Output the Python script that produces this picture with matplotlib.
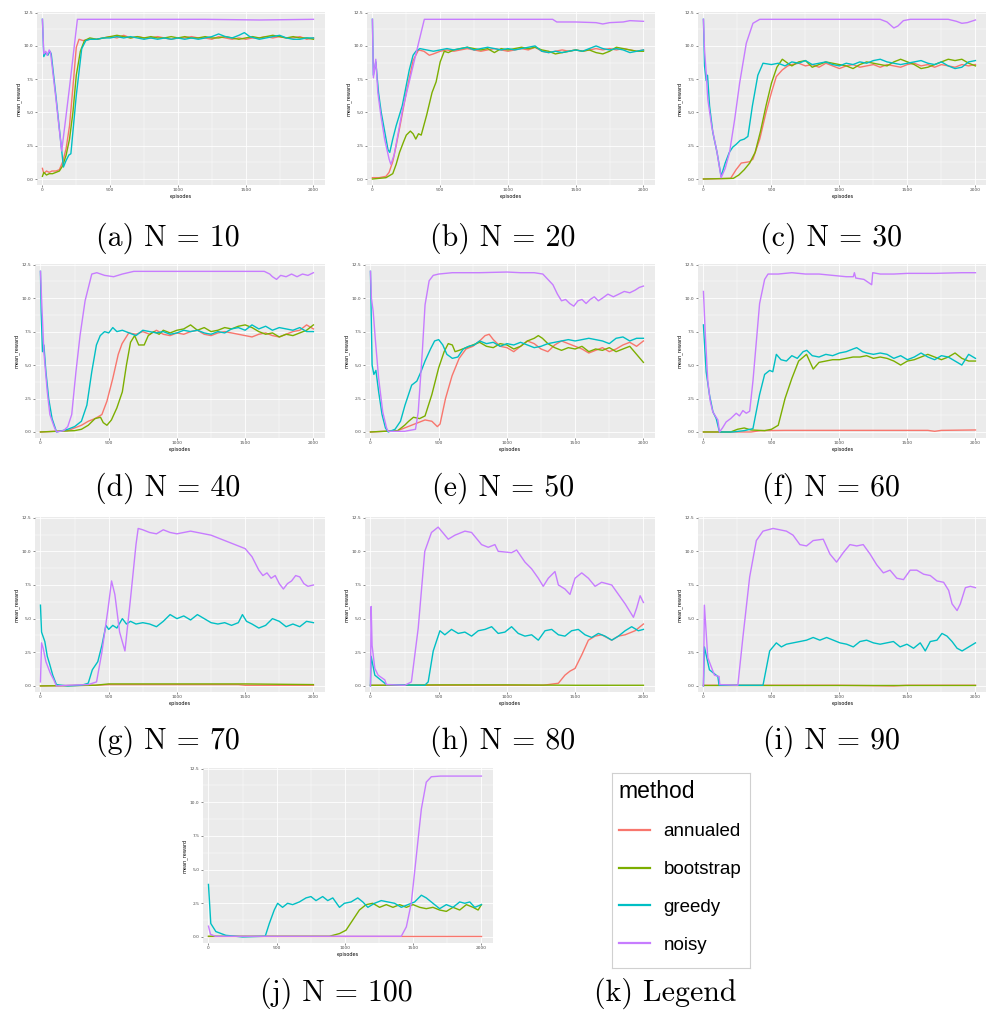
import matplotlib
matplotlib.use('Agg')
import matplotlib.pyplot as plt
from matplotlib.lines import Line2D

# (episode, mean_reward) points
A_ANNUALED = [(0, 0.8), (10, 0.4), (30, 0.6), (50, 0.5), (70, 0.6), (100, 0.6), (125, 0.7), (150, 1.3), (175, 2.3), (200, 4.0), (230, 7.5), (250, 9.9), (270, 10.5), (300, 10.4), (350, 10.5), (400, 10.5), (450, 10.6), (500, 10.7), (550, 10.6), (600, 10.8), (650, 10.6), (700, 10.7), (750, 10.6), (800, 10.6), (850, 10.7), (900, 10.6), (950, 10.5), (1000, 10.6), (1050, 10.6), (1100, 10.7), (1150, 10.6), (1200, 10.6), (1250, 10.5), (1300, 10.7), (1350, 10.6), (1400, 10.5), (1450, 10.6), (1500, 10.5), (1550, 10.6), (1600, 10.6), (1650, 10.7), (1700, 10.6), (1750, 10.7), (1800, 10.6), (1850, 10.6), (1900, 10.7), (1950, 10.5), (2000, 10.6)]
A_BOOTSTRAP = [(0, 0.2), (10, 0.5), (30, 0.3), (50, 0.4), (75, 0.4), (100, 0.5), (125, 0.6), (150, 1.0), (175, 1.8), (200, 3.0), (225, 5.0), (250, 7.8), (280, 9.6), (310, 10.4), (350, 10.6), (400, 10.5), (450, 10.6), (500, 10.7), (550, 10.8), (600, 10.7), (650, 10.6), (700, 10.7), (750, 10.6), (800, 10.7), (850, 10.6), (900, 10.6), (950, 10.7), (1000, 10.6), (1050, 10.7), (1100, 10.6), (1150, 10.6), (1200, 10.7), (1250, 10.6), (1300, 10.6), (1350, 10.7), (1400, 10.6), (1450, 10.5), (1500, 10.6), (1550, 10.7), (1600, 10.6), (1650, 10.7), (1700, 10.8), (1750, 10.7), (1800, 10.6), (1850, 10.7), (1900, 10.6), (1950, 10.6), (2000, 10.5)]
A_GREEDY = [(0, 12.0), (10, 9.2), (25, 9.5), (40, 9.3), (55, 9.6), (65, 9.4), (100, 6.2), (130, 3.3), (155, 0.9), (175, 1.4), (195, 1.8), (210, 1.9), (250, 6.3), (290, 9.8), (320, 10.4), (350, 10.5), (400, 10.5), (450, 10.6), (500, 10.6), (550, 10.7), (600, 10.6), (650, 10.7), (700, 10.6), (750, 10.5), (800, 10.6), (850, 10.5), (900, 10.6), (950, 10.5), (1000, 10.6), (1050, 10.5), (1100, 10.6), (1150, 10.5), (1200, 10.6), (1250, 10.7), (1300, 10.9), (1350, 10.7), (1400, 10.6), (1450, 10.8), (1490, 11.0), (1530, 10.7), (1600, 10.5), (1650, 10.6), (1700, 10.7), (1750, 10.8), (1800, 10.6), (1850, 10.5), (1900, 10.5), (1950, 10.6), (2000, 10.6)]
A_NOISY = [(0, 12.0), (10, 9.4), (25, 9.6), (35, 9.3), (50, 9.7), (60, 9.5), (100, 6.0), (142, 2.1), (175, 4.8), (200, 6.9), (258, 12.0), (400, 12.0), (800, 12.0), (1200, 12.0), (1600, 11.95), (2000, 12.0)]

B_ANNUALED = [(0, 0.1), (50, 0.1), (100, 0.2), (123, 0.5), (150, 1.3), (175, 2.5), (200, 3.8), (250, 6.5), (300, 8.9), (340, 9.7), (380, 9.6), (420, 9.3), (450, 9.4), (500, 9.6), (550, 9.7), (600, 9.6), (650, 9.7), (700, 9.8), (750, 9.7), (800, 9.6), (850, 9.7), (900, 9.8), (950, 9.7), (1000, 9.6), (1050, 9.7), (1100, 9.8), (1150, 9.7), (1200, 9.9), (1250, 9.6), (1300, 9.5), (1350, 9.6), (1400, 9.7), (1450, 9.6), (1500, 9.7), (1550, 9.6), (1600, 9.7), (1650, 9.8), (1700, 9.7), (1750, 9.8), (1800, 9.7), (1850, 9.8), (1900, 9.7), (1950, 9.6), (2000, 9.7)]
B_BOOTSTRAP = [(0, 0.0), (100, 0.1), (150, 0.4), (175, 1.1), (200, 2.0), (230, 2.8), (250, 3.3), (280, 3.6), (300, 3.4), (320, 3.0), (340, 3.4), (360, 3.3), (400, 4.8), (440, 6.5), (470, 7.3), (500, 8.8), (530, 9.6), (560, 9.5), (600, 9.7), (650, 9.8), (700, 9.9), (750, 9.8), (800, 9.7), (850, 9.8), (900, 9.5), (950, 9.8), (1000, 9.7), (1050, 9.8), (1100, 9.9), (1150, 9.8), (1200, 9.9), (1250, 9.7), (1300, 9.6), (1350, 9.4), (1400, 9.5), (1450, 9.6), (1500, 9.7), (1550, 9.6), (1600, 9.7), (1650, 9.5), (1700, 9.4), (1750, 9.6), (1800, 9.9), (1850, 9.8), (1900, 9.7), (1950, 9.6), (2000, 9.6)]
B_GREEDY = [(0, 12.0), (7, 7.8), (25, 8.8), (45, 6.5), (65, 5.0), (90, 3.6), (115, 2.2), (128, 2.0), (150, 3.0), (175, 4.0), (220, 5.5), (272, 8.2), (300, 9.3), (321, 9.6), (350, 9.8), (400, 9.7), (450, 9.6), (500, 9.7), (550, 9.8), (600, 9.7), (650, 9.8), (700, 9.9), (750, 9.7), (800, 9.8), (850, 9.9), (900, 9.8), (950, 9.7), (1000, 9.8), (1050, 9.7), (1100, 9.8), (1150, 9.9), (1200, 10.0), (1250, 9.6), (1300, 9.5), (1350, 9.6), (1400, 9.5), (1450, 9.6), (1500, 9.7), (1550, 9.6), (1600, 9.8), (1650, 10.0), (1700, 9.8), (1750, 9.7), (1800, 9.8), (1850, 9.7), (1900, 9.5), (1950, 9.6), (2000, 9.7)]
B_NOISY = [(0, 12.0), (7, 7.6), (25, 9.0), (40, 6.5), (62, 4.8), (90, 3.0), (123, 1.5), (136, 1.1), (160, 1.8), (222, 5.2), (300, 8.5), (340, 10.2), (383, 12.0), (500, 12.0), (900, 12.0), (1330, 12.0), (1360, 11.8), (1500, 11.8), (1650, 11.75), (1700, 11.65), (1750, 11.75), (1850, 11.8), (1900, 11.9), (2000, 11.85)]

C_ANNUALED = [(0, 0.0), (200, 0.05), (240, 0.7), (278, 1.2), (340, 1.3), (364, 1.5), (414, 3.0), (460, 5.0), (500, 6.5), (536, 7.7), (580, 8.2), (620, 8.5), (650, 8.6), (700, 8.7), (750, 8.5), (800, 8.6), (850, 8.4), (900, 8.7), (950, 8.5), (1000, 8.3), (1050, 8.5), (1100, 8.6), (1150, 8.4), (1200, 8.5), (1250, 8.6), (1300, 8.4), (1350, 8.6), (1400, 8.5), (1450, 8.4), (1500, 8.6), (1550, 8.7), (1600, 8.5), (1650, 8.6), (1700, 8.4), (1750, 8.6), (1800, 8.5), (1850, 8.4), (1900, 8.6), (1950, 8.5), (2000, 8.6)]
C_BOOTSTRAP = [(0, 0.0), (220, 0.05), (260, 0.3), (300, 0.7), (340, 1.2), (380, 2.0), (420, 3.6), (460, 5.5), (500, 7.2), (540, 8.4), (580, 9.0), (620, 8.7), (650, 8.5), (700, 8.8), (750, 8.9), (800, 8.4), (850, 8.6), (900, 8.8), (950, 8.7), (1000, 8.6), (1050, 8.5), (1100, 8.3), (1150, 8.6), (1200, 8.8), (1250, 8.7), (1300, 8.6), (1350, 8.5), (1400, 8.8), (1450, 9.0), (1500, 8.8), (1550, 8.6), (1600, 8.3), (1650, 8.4), (1700, 8.6), (1750, 8.8), (1800, 9.0), (1850, 8.9), (1900, 9.0), (1950, 8.7), (2000, 8.5)]
C_GREEDY = [(0, 12.0), (8, 8.5), (20, 7.4), (30, 7.8), (45, 5.5), (69, 3.5), (100, 2.0), (130, 0.2), (160, 1.2), (190, 2.0), (216, 2.4), (240, 2.6), (270, 2.9), (300, 3.0), (327, 3.2), (360, 5.5), (400, 7.8), (438, 8.7), (500, 8.6), (550, 8.7), (600, 8.5), (650, 8.8), (700, 8.7), (750, 8.9), (800, 8.6), (850, 8.7), (900, 8.8), (950, 8.6), (1000, 8.5), (1050, 8.7), (1100, 8.6), (1150, 8.8), (1200, 8.7), (1250, 8.9), (1300, 9.0), (1350, 8.8), (1400, 8.7), (1450, 8.6), (1500, 8.7), (1550, 8.8), (1600, 8.9), (1650, 8.7), (1700, 8.6), (1750, 8.8), (1800, 8.5), (1850, 8.3), (1900, 8.4), (1950, 8.8), (2000, 8.9)]
C_NOISY = [(0, 12.0), (8, 9.7), (20, 8.0), (32, 6.0), (60, 4.0), (100, 2.0), (130, 0.1), (160, 0.8), (192, 2.0), (230, 4.5), (266, 7.2), (315, 10.2), (364, 11.7), (414, 12.0), (600, 12.0), (1000, 12.0), (1300, 12.0), (1350, 11.8), (1400, 11.35), (1430, 11.5), (1470, 11.9), (1520, 12.0), (1800, 12.0), (1860, 11.85), (1900, 11.7), (1940, 11.75), (2000, 11.95)]

D_ANNUALED = [(0, 0.0), (200, 0.1), (250, 0.3), (300, 0.5), (350, 0.8), (400, 1.0), (450, 1.3), (487, 2.3), (530, 4.0), (570, 5.8), (598, 6.6), (647, 7.4), (700, 7.3), (750, 7.5), (800, 7.3), (850, 7.6), (900, 7.3), (950, 7.2), (1000, 7.4), (1050, 7.3), (1100, 7.5), (1150, 7.6), (1200, 7.3), (1250, 7.2), (1300, 7.4), (1350, 7.5), (1400, 7.4), (1450, 7.3), (1500, 7.2), (1550, 7.1), (1600, 7.3), (1650, 7.4), (1700, 7.2), (1750, 7.1), (1800, 7.3), (1850, 7.5), (1900, 7.6), (1950, 8.0), (2000, 7.7)]
D_BOOTSTRAP = [(0, 0.0), (250, 0.1), (300, 0.2), (350, 0.5), (400, 1.0), (440, 1.1), (460, 0.7), (487, 0.5), (520, 0.9), (560, 1.8), (600, 3.0), (630, 5.0), (660, 6.7), (690, 7.2), (720, 6.5), (760, 6.5), (790, 7.2), (830, 7.5), (870, 7.3), (900, 7.6), (950, 7.4), (1000, 7.6), (1050, 7.7), (1100, 8.0), (1150, 7.6), (1200, 7.8), (1250, 7.5), (1300, 7.6), (1350, 7.8), (1400, 7.7), (1450, 7.9), (1500, 8.0), (1550, 7.8), (1600, 7.5), (1650, 7.3), (1700, 7.4), (1750, 7.1), (1800, 7.3), (1850, 7.2), (1900, 7.4), (1950, 7.6), (2000, 8.0)]
D_GREEDY = [(0, 12.0), (5, 9.0), (15, 6.0), (25, 6.5), (40, 4.5), (60, 2.5), (85, 1.0), (118, 0.0), (160, 0.1), (200, 0.2), (250, 0.4), (300, 0.8), (340, 2.0), (376, 4.5), (410, 6.5), (438, 7.2), (470, 7.5), (500, 7.4), (530, 7.8), (560, 7.5), (600, 7.6), (650, 7.4), (700, 7.2), (750, 7.6), (800, 7.5), (850, 7.4), (900, 7.5), (950, 7.3), (1000, 7.4), (1050, 7.6), (1100, 7.5), (1150, 7.6), (1200, 7.4), (1250, 7.3), (1300, 7.5), (1350, 7.4), (1400, 7.7), (1450, 7.8), (1500, 7.6), (1550, 8.0), (1600, 7.7), (1650, 7.9), (1700, 7.6), (1750, 7.8), (1800, 7.7), (1850, 7.6), (1900, 7.8), (1950, 7.5), (2000, 7.5)]
D_NOISY = [(0, 12.0), (10, 9.5), (25, 6.0), (50, 3.0), (69, 1.3), (100, 0.4), (118, 0.0), (170, 0.1), (200, 0.4), (229, 1.3), (260, 4.5), (290, 7.2), (327, 9.8), (376, 11.8), (413, 11.9), (470, 11.7), (536, 11.6), (600, 11.8), (684, 12.0), (800, 12.0), (1200, 12.0), (1640, 12.0), (1680, 11.8), (1700, 11.6), (1730, 11.4), (1760, 11.7), (1800, 11.6), (1840, 11.8), (1880, 11.6), (1920, 11.8), (1960, 11.7), (2000, 11.9)]

E_ANNUALED = [(0, 0.0), (200, 0.1), (250, 0.3), (300, 0.5), (350, 0.7), (400, 0.9), (450, 0.8), (490, 0.4), (510, 0.6), (550, 2.5), (598, 4.2), (650, 5.5), (700, 6.2), (750, 6.4), (800, 6.8), (840, 7.2), (870, 7.3), (900, 6.9), (950, 6.4), (1000, 6.3), (1050, 6.0), (1100, 6.4), (1150, 6.8), (1200, 6.6), (1250, 6.2), (1300, 6.0), (1350, 6.5), (1400, 6.8), (1450, 6.6), (1500, 6.4), (1550, 6.2), (1600, 5.9), (1650, 6.1), (1700, 6.3), (1750, 6.0), (1800, 6.2), (1850, 6.5), (1900, 6.7), (1950, 6.4), (2000, 6.8)]
E_BOOTSTRAP = [(0, 0.0), (200, 0.1), (250, 0.5), (280, 0.8), (315, 1.1), (360, 1.0), (400, 1.2), (450, 2.8), (500, 4.8), (540, 6.0), (570, 6.6), (600, 6.5), (620, 6.0), (650, 6.1), (700, 6.3), (750, 6.5), (800, 6.7), (850, 6.4), (900, 6.3), (950, 6.6), (1000, 6.5), (1050, 6.2), (1100, 6.4), (1150, 6.8), (1200, 7.0), (1230, 7.2), (1260, 7.0), (1300, 6.6), (1350, 6.3), (1400, 6.1), (1450, 6.3), (1500, 6.2), (1550, 6.4), (1600, 6.0), (1650, 6.2), (1700, 6.1), (1750, 6.3), (1800, 6.0), (1850, 6.2), (1900, 6.4), (1950, 5.8), (2000, 5.2)]
E_GREEDY = [(0, 12.0), (5, 9.0), (12, 5.0), (25, 4.3), (40, 4.6), (60, 3.0), (85, 1.3), (110, 0.3), (130, 0.0), (180, 0.2), (220, 0.8), (253, 2.0), (302, 3.5), (340, 3.8), (370, 4.5), (400, 5.3), (440, 6.2), (470, 6.8), (500, 6.9), (530, 6.5), (560, 5.8), (600, 5.5), (640, 5.6), (680, 6.2), (720, 6.4), (760, 6.5), (800, 6.8), (850, 6.6), (900, 6.7), (950, 6.4), (1000, 6.6), (1050, 6.5), (1100, 6.7), (1150, 6.5), (1200, 6.3), (1250, 6.4), (1300, 6.6), (1350, 6.7), (1400, 6.8), (1450, 6.9), (1500, 6.8), (1550, 6.9), (1600, 7.0), (1650, 6.9), (1700, 6.8), (1750, 6.6), (1800, 7.0), (1850, 7.1), (1900, 6.8), (1950, 7.0), (2000, 7.0)]
E_NOISY = [(0, 12.0), (7, 10.0), (20, 9.0), (35, 7.0), (60, 4.0), (90, 1.5), (118, 0.3), (130, 0.05), (250, 0.05), (330, 0.2), (350, 1.5), (380, 6.0), (400, 9.5), (430, 11.3), (460, 11.7), (500, 11.8), (600, 11.9), (800, 11.9), (1000, 11.95), (1100, 11.9), (1200, 11.9), (1263, 11.8), (1300, 11.4), (1337, 11.0), (1370, 10.3), (1400, 9.8), (1430, 9.9), (1460, 9.6), (1490, 9.4), (1520, 9.8), (1550, 9.9), (1580, 9.6), (1610, 9.9), (1640, 10.1), (1670, 9.8), (1700, 10.0), (1740, 10.3), (1780, 10.1), (1820, 10.3), (1860, 10.5), (1900, 10.4), (1940, 10.6), (1970, 10.8), (2000, 10.9)]

F_ANNUALED = [(0, 0.0), (350, 0.0), (420, 0.1), (600, 0.12), (1000, 0.12), (1650, 0.12), (1700, 0.05), (1750, 0.12), (2000, 0.15)]
F_BOOTSTRAP = [(0, 0.0), (200, 0.0), (250, 0.2), (300, 0.3), (350, 0.15), (450, 0.1), (500, 0.2), (550, 0.5), (600, 2.5), (650, 4.0), (700, 5.3), (758, 5.8), (807, 4.7), (850, 5.2), (900, 5.3), (950, 5.4), (1000, 5.4), (1050, 5.5), (1100, 5.6), (1150, 5.6), (1200, 5.7), (1250, 5.5), (1300, 5.6), (1350, 5.5), (1400, 5.3), (1450, 5.0), (1500, 5.3), (1550, 5.4), (1600, 5.6), (1650, 5.8), (1700, 5.6), (1750, 5.4), (1800, 5.6), (1850, 5.9), (1900, 5.5), (1950, 5.3), (2000, 5.3)]
F_GREEDY = [(0, 8.0), (20, 4.5), (44, 2.8), (70, 1.5), (94, 1.0), (118, 0.0), (216, 0.0), (300, 0.1), (364, 0.25), (413, 2.8), (450, 4.3), (487, 4.6), (510, 4.5), (536, 5.8), (570, 5.4), (610, 5.3), (650, 5.7), (690, 5.5), (733, 6.0), (760, 6.1), (800, 5.7), (850, 5.6), (900, 5.8), (950, 5.7), (1000, 5.9), (1050, 6.0), (1100, 6.2), (1127, 6.3), (1170, 6.0), (1200, 5.9), (1250, 5.8), (1300, 5.9), (1350, 5.8), (1400, 5.5), (1450, 5.7), (1500, 5.4), (1550, 5.6), (1600, 5.9), (1650, 5.6), (1700, 5.4), (1750, 5.7), (1800, 5.6), (1850, 5.3), (1900, 5.0), (1950, 5.8), (2000, 5.5)]
F_NOISY = [(0, 10.5), (15, 7.0), (32, 3.8), (50, 2.3), (69, 1.5), (106, 0.9), (118, 0.0), (140, 0.3), (167, 0.75), (200, 1.0), (241, 1.4), (265, 1.2), (290, 1.6), (315, 1.4), (340, 1.55), (364, 3.8), (413, 9.6), (450, 11.4), (475, 11.8), (550, 11.8), (650, 11.9), (750, 11.8), (850, 11.8), (950, 11.7), (1050, 11.6), (1102, 11.6), (1110, 11.9), (1120, 11.5), (1180, 11.4), (1237, 11.0), (1245, 11.9), (1300, 11.8), (1400, 11.8), (1500, 11.85), (1700, 11.85), (1900, 11.9), (2000, 11.9)]

G_ANNUALED = [(0, 0.0), (400, 0.05), (500, 0.1), (1000, 0.1), (1450, 0.1), (1500, 0.05), (2000, 0.05)]
G_BOOTSTRAP = [(0, 0.0), (400, 0.05), (500, 0.15), (1000, 0.15), (1500, 0.15), (2000, 0.1)]
G_GREEDY = [(0, 6.0), (8, 4.0), (32, 3.3), (50, 2.2), (68, 1.6), (90, 0.8), (117, 0.1), (200, 0.0), (300, 0.05), (350, 0.2), (380, 1.2), (420, 1.8), (450, 3.0), (480, 4.5), (500, 4.2), (530, 4.5), (560, 4.3), (600, 5.0), (630, 4.6), (660, 4.8), (700, 4.6), (750, 4.7), (800, 4.6), (850, 4.4), (900, 4.8), (950, 5.3), (1000, 5.0), (1050, 5.2), (1100, 4.9), (1150, 5.3), (1200, 5.0), (1250, 4.7), (1300, 4.6), (1350, 4.7), (1400, 4.5), (1450, 4.7), (1480, 5.3), (1510, 4.8), (1550, 4.6), (1600, 4.3), (1650, 4.5), (1700, 5.0), (1750, 4.8), (1800, 4.4), (1850, 4.6), (1900, 4.4), (1950, 4.8), (2000, 4.7)]
G_NOISY = [(0, 0.3), (8, 3.2), (20, 2.8), (40, 1.8), (70, 1.0), (100, 0.4), (117, 0.0), (200, 0.05), (350, 0.1), (411, 0.3), (450, 2.5), (496, 5.8), (521, 7.8), (545, 6.8), (580, 4.0), (619, 2.6), (660, 6.5), (700, 10.5), (716, 11.7), (750, 11.6), (800, 11.4), (850, 11.3), (900, 11.6), (950, 11.4), (1000, 11.3), (1050, 11.4), (1100, 11.5), (1150, 11.4), (1200, 11.3), (1250, 11.2), (1300, 11.0), (1350, 10.8), (1400, 10.6), (1450, 10.4), (1500, 10.2), (1550, 9.6), (1600, 8.6), (1630, 8.2), (1660, 8.4), (1690, 8.0), (1720, 8.2), (1750, 7.6), (1780, 7.2), (1810, 7.6), (1840, 7.8), (1870, 8.2), (1900, 8.1), (1930, 7.6), (1960, 7.4), (2000, 7.5)]

H_ANNUALED = [(0, 0.05), (1266, 0.05), (1377, 0.2), (1425, 0.8), (1462, 1.1), (1499, 1.3), (1548, 2.3), (1597, 3.4), (1646, 3.7), (1694, 3.8), (1768, 3.4), (1817, 3.7), (1866, 3.8), (1939, 4.1), (2000, 4.6)]
H_BOOTSTRAP = [(0, 0.05), (500, 0.08), (1000, 0.08), (1500, 0.05), (2000, 0.05)]
H_GREEDY = [(0, 0.0), (5, 2.2), (32, 0.8), (117, 0.1), (398, 0.05), (423, 0.3), (460, 2.6), (509, 4.1), (545, 3.8), (594, 4.2), (643, 3.9), (692, 4.0), (741, 3.7), (790, 4.1), (839, 4.2), (888, 4.4), (936, 3.9), (985, 4.0), (1034, 4.4), (1083, 3.9), (1132, 3.7), (1181, 3.8), (1230, 3.4), (1279, 4.1), (1328, 4.2), (1377, 3.8), (1425, 3.7), (1474, 4.1), (1523, 4.2), (1572, 3.8), (1621, 3.6), (1670, 3.9), (1719, 3.7), (1768, 3.4), (1817, 3.7), (1866, 4.1), (1914, 4.4), (1963, 4.1), (2000, 4.2)]
H_NOISY = [(0, 0.0), (5, 5.9), (12, 3.0), (32, 1.3), (56, 0.8), (105, 0.45), (117, 0.1), (252, 0.05), (300, 0.3), (350, 4.3), (398, 10.0), (447, 11.4), (496, 11.8), (521, 11.5), (570, 10.9), (619, 11.2), (692, 11.5), (741, 11.4), (814, 10.5), (863, 10.3), (912, 10.5), (936, 10.0), (1034, 9.9), (1071, 10.1), (1132, 9.2), (1181, 8.7), (1230, 8.0), (1266, 7.4), (1303, 8.0), (1352, 8.5), (1377, 7.5), (1425, 7.2), (1462, 6.8), (1499, 8.0), (1548, 8.4), (1597, 8.0), (1646, 7.4), (1694, 7.7), (1768, 7.5), (1817, 6.8), (1866, 6.1), (1927, 5.1), (1951, 5.8), (1976, 6.7), (2000, 6.2)]

I_ANNUALED = [(0, 0.05), (1000, 0.05), (1400, 0.0), (1500, 0.05), (2000, 0.05)]
I_BOOTSTRAP = [(0, 0.1), (500, 0.1), (1000, 0.1), (1500, 0.1), (2000, 0.1)]
I_GREEDY = [(0, 0.0), (7, 2.9), (44, 1.2), (106, 0.7), (115, 0.05), (438, 0.05), (487, 2.6), (536, 3.2), (573, 2.9), (610, 3.1), (659, 3.2), (709, 3.3), (758, 3.4), (807, 3.6), (856, 3.4), (906, 3.6), (955, 3.4), (1004, 3.2), (1053, 3.1), (1102, 2.9), (1151, 3.3), (1200, 3.4), (1250, 3.2), (1299, 3.1), (1348, 3.2), (1397, 3.3), (1446, 2.9), (1496, 3.1), (1545, 2.8), (1594, 3.2), (1631, 2.6), (1668, 3.3), (1717, 3.4), (1754, 3.9), (1791, 3.7), (1828, 3.3), (1865, 2.8), (1902, 2.6), (1951, 2.9), (2000, 3.2)]
I_NOISY = [(0, 0.0), (7, 6.0), (32, 2.1), (81, 0.8), (115, 0.7), (120, 0.1), (253, 0.05), (290, 3.6), (340, 8.1), (389, 10.8), (438, 11.5), (512, 11.7), (610, 11.5), (659, 11.2), (709, 10.5), (758, 10.4), (807, 10.8), (881, 10.9), (930, 9.8), (979, 9.2), (1028, 9.9), (1077, 10.5), (1127, 10.4), (1175, 10.5), (1225, 9.8), (1274, 9.0), (1323, 8.4), (1372, 8.6), (1422, 8.0), (1471, 7.9), (1520, 8.6), (1569, 8.6), (1619, 8.3), (1668, 8.2), (1717, 7.8), (1766, 7.7), (1803, 7.1), (1828, 6.1), (1865, 5.6), (1889, 6.1), (1926, 7.3), (1963, 7.4), (2000, 7.3)]

J_ANNUALED = [(0, 0.1), (1000, 0.1), (2000, 0.1)]
J_BOOTSTRAP = [(0, 0.05), (886, 0.05), (960, 0.25), (1008, 0.5), (1057, 1.25), (1106, 2.0), (1155, 2.4), (1204, 2.5), (1254, 2.2), (1303, 2.4), (1352, 2.2), (1401, 2.4), (1450, 2.2), (1499, 2.4), (1548, 2.2), (1596, 2.1), (1645, 2.2), (1694, 2.0), (1743, 1.9), (1792, 2.2), (1841, 2.0), (1890, 2.4), (1939, 2.2), (1976, 2.0), (2000, 2.4)]
J_GREEDY = [(0, 3.9), (17, 1.0), (54, 0.4), (127, 0.12), (250, 0.0), (416, 0.05), (446, 1.0), (482, 2.0), (507, 2.5), (543, 2.2), (580, 2.5), (617, 2.4), (666, 2.6), (715, 2.9), (751, 3.0), (788, 2.7), (837, 3.0), (874, 2.7), (911, 2.9), (960, 2.2), (996, 2.5), (1045, 2.6), (1094, 2.9), (1131, 2.6), (1168, 2.2), (1217, 2.5), (1266, 2.7), (1315, 2.6), (1364, 2.5), (1413, 2.2), (1462, 2.4), (1511, 2.6), (1560, 3.1), (1596, 2.9), (1645, 2.5), (1694, 2.1), (1743, 2.4), (1792, 2.2), (1841, 2.6), (1878, 2.5), (1915, 2.6), (1951, 2.2), (2000, 2.4)]
J_NOISY = [(0, 0.8), (15, 0.2), (50, 0.05), (1413, 0.05), (1450, 0.75), (1486, 2.5), (1523, 6.0), (1560, 9.5), (1596, 11.5), (1633, 11.9), (1700, 11.95), (2000, 11.95)]

METHODS = ['annualed', 'bootstrap', 'greedy', 'noisy']
COLORS = ['#F8766D', '#7CAE00', '#00BFC4', '#C77CFF']
CAPTIONS = ['(a) N = 10', '(b) N = 20', '(c) N = 30', '(d) N = 40', '(e) N = 50',
            '(f) N = 60', '(g) N = 70', '(h) N = 80', '(i) N = 90', '(j) N = 100']
X_TICKS = [0, 500, 1000, 1500, 2000]
Y_TICKS = [0.0, 2.5, 5.0, 7.5, 10.0, 12.5]

PANELS = [
    (A_ANNUALED, A_BOOTSTRAP, A_GREEDY, A_NOISY),
    (B_ANNUALED, B_BOOTSTRAP, B_GREEDY, B_NOISY),
    (C_ANNUALED, C_BOOTSTRAP, C_GREEDY, C_NOISY),
    (D_ANNUALED, D_BOOTSTRAP, D_GREEDY, D_NOISY),
    (E_ANNUALED, E_BOOTSTRAP, E_GREEDY, E_NOISY),
    (F_ANNUALED, F_BOOTSTRAP, F_GREEDY, F_NOISY),
    (G_ANNUALED, G_BOOTSTRAP, G_GREEDY, G_NOISY),
    (H_ANNUALED, H_BOOTSTRAP, H_GREEDY, H_NOISY),
    (I_ANNUALED, I_BOOTSTRAP, I_GREEDY, I_NOISY),
    (J_ANNUALED, J_BOOTSTRAP, J_GREEDY, J_NOISY),
]

# layout in pixels of the 987x1014 picture: panel boxes and caption centres
W, H = 987, 1014
BOXES = [(37, 12, 325, 185), (367, 12, 655, 185), (698, 12, 987, 185),
         (35, 264, 325, 438), (365, 264, 655, 438), (698, 264, 987, 438),
         (35, 517, 325, 692), (365, 517, 655, 692), (698, 517, 987, 692),
         (203, 768, 493, 943)]
CAPTION_XY = [(168, 238), (503, 238), (831, 238),
              (168, 488), (503, 488), (831, 488),
              (168, 741), (503, 741), (831, 741),
              (336, 993)]


def fig_rect(box):
    x0, y0, x1, y1 = box
    return [x0 / W, 1 - y1 / H, (x1 - x0) / W, (y1 - y0) / H]


fig = plt.figure(figsize=(W / 100, H / 100), dpi=100)

for series_set, box, caption, (cx, cy) in zip(PANELS, BOXES, CAPTIONS, CAPTION_XY):
    ax = fig.add_axes(fig_rect(box))
    ax.set_facecolor('#EBEBEB')
    for series, color in zip(series_set, COLORS):
        xs = [p[0] for p in series]
        ys = [p[1] for p in series]
        ax.plot(xs, ys, color=color, lw=1.0, solid_joinstyle='round')
    ax.set_xlim(-40, 2085)
    ax.set_ylim(-0.45, 12.55)
    ax.set_xticks(X_TICKS)
    ax.set_xticklabels([str(t) for t in X_TICKS])
    ax.set_yticks(Y_TICKS)
    ax.set_yticklabels(['%.1f' % t for t in Y_TICKS])
    ax.set_xticks([250, 750, 1250, 1750], minor=True)
    ax.set_yticks([1.25, 3.75, 6.25, 8.75, 11.25], minor=True)
    ax.grid(which='major', color='white', lw=0.6)
    ax.grid(which='minor', color='white', lw=0.3)
    ax.set_axisbelow(True)
    for s in ax.spines.values():
        s.set_visible(False)
    ax.tick_params(which='major', labelsize=3.2, length=1.5, width=0.4,
                   color='#333333', labelcolor='#4D4D4D', pad=1)
    ax.tick_params(which='minor', length=0)
    ax.set_xlabel('episodes', fontsize=3.6, labelpad=1)
    ax.set_ylabel('mean_reward', fontsize=3.6, labelpad=1.5)
    fig.text(cx / W, 1 - cy / H, caption, fontfamily='cmr10', fontsize=21.5,
             ha='center', va='center')

# legend panel
leg_ax = fig.add_axes(fig_rect((612, 773, 750, 968)))
leg_ax.set_xticks([])
leg_ax.set_yticks([])
for s in leg_ax.spines.values():
    s.set_color('#D0D0D0')
    s.set_linewidth(0.8)
handles = [Line2D([], [], color=c, lw=1.6) for c in COLORS]
leg = leg_ax.legend(handles, METHODS, title='method', loc='upper left',
                    bbox_to_anchor=(0.0, 1.0), frameon=False, borderaxespad=0,
                    prop={'family': 'Liberation Sans', 'size': 13.5},
                    title_fontproperties={'family': 'Liberation Sans', 'size': 16.5},
                    handlelength=1.7, handletextpad=0.7, labelspacing=1.1,
                    borderpad=0.35, alignment='left')
fig.text(665 / W, 1 - 993 / H, '(k) Legend', fontfamily='cmr10', fontsize=21.5,
         ha='center', va='center')

fig.savefig('out.png', dpi=100, facecolor='white')
